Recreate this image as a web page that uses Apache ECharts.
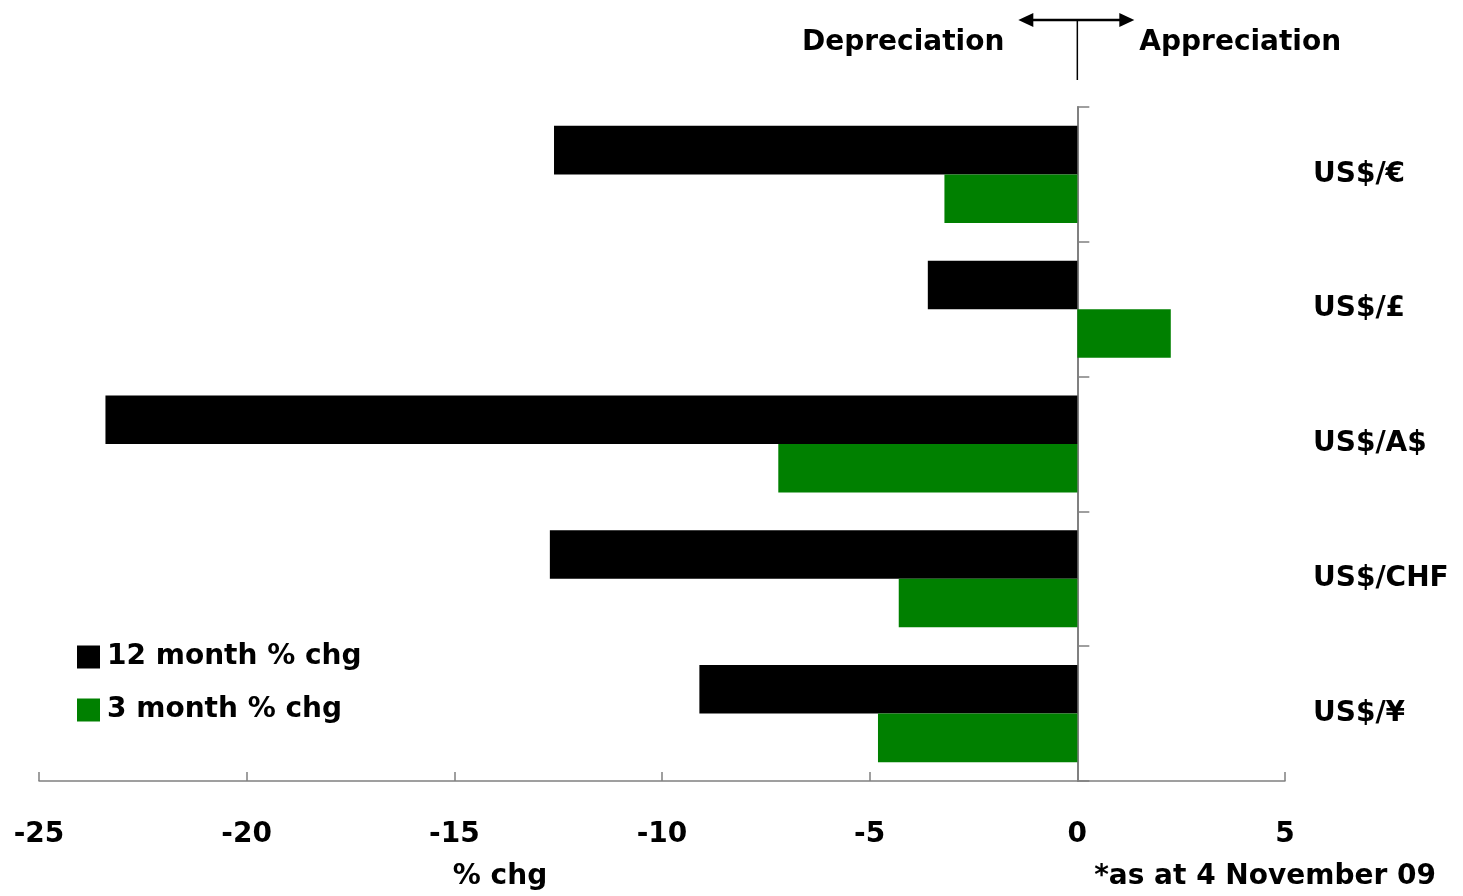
<!DOCTYPE html>
<html>
<head>
<meta charset="utf-8">
<script src="https://cdn.jsdelivr.net/npm/echarts@6/dist/echarts.min.js"></script>
<style>
  html, body { margin: 0; padding: 0; background: #ffffff; }
  #chart { width: 1463px; height: 896px; }
</style>
</head>
<body>
<div id="chart"></div>
<script>
// Currency pairs, top to bottom
const categories = ['US$/€', 'US$/£', 'US$/A$', 'US$/CHF', 'US$/¥'];
// Percentage change in each pair
const chg12m = [-12.6, -3.6, -23.4, -12.7, -9.1];
const chg3m = [-3.2, 2.25, -7.2, -4.3, -4.8];
const seriesNames = ['12 month % chg', '3 month % chg'];
const xTicks = { min: -25, max: 5, step: 5 };

const FONT = '"DejaVu Sans", "Liberation Sans", Arial, sans-serif';
const chart = echarts.init(document.getElementById('chart'));

chart.setOption({
  animation: false,
  backgroundColor: '#ffffff',
  grid: { left: 39, right: 178, top: 107, bottom: 115, containLabel: false },
  legend: {
    orient: 'vertical',
    left: 77,
    top: 643,
    padding: 0,
    itemWidth: 23,
    itemHeight: 23,
    itemGap: 25,
    icon: 'rect',
    data: seriesNames,
    textStyle: { fontFamily: FONT, fontWeight: 'bold', fontSize: 28, color: '#000', lineHeight: 28, padding: [0, 0, 0, 2] }
  },
  xAxis: {
    type: 'value',
    min: xTicks.min,
    max: xTicks.max,
    interval: xTicks.step,
    splitLine: { show: false },
    axisLine: { show: true, onZero: false, lineStyle: { color: '#808080', width: 1.5 } },
    axisTick: { show: true, inside: true, length: 9, lineStyle: { color: '#808080', width: 1.5 } },
    axisLabel: { margin: 40, fontFamily: FONT, fontWeight: 'bold', fontSize: 28, color: '#000' }
  },
  yAxis: [
    {
      type: 'category',
      data: categories,
      inverse: true,
      axisLine: { show: true, onZero: true, lineStyle: { color: '#808080', width: 2 } },
      axisTick: { show: true, inside: true, length: 12, lineStyle: { color: '#808080', width: 1.5 } },
      axisLabel: { show: false }
    },
    {
      type: 'category',
      data: categories,
      inverse: true,
      position: 'right',
      axisLine: { show: false, onZero: false },
      axisTick: { show: false },
      axisLabel: { margin: 28, align: 'left', fontFamily: FONT, fontWeight: 'bold', fontSize: 28, color: '#000', padding: [4, 0, 0, 0] }
    }
  ],
  series: [
    {
      name: seriesNames[0],
      type: 'bar',
      yAxisIndex: 0,
      data: chg12m,
      barGap: '0%',
      barCategoryGap: '28%',
      itemStyle: { color: '#000000' }
    },
    {
      name: seriesNames[1],
      type: 'bar',
      yAxisIndex: 0,
      data: chg3m,
      barGap: '0%',
      barCategoryGap: '28%',
      itemStyle: { color: '#008000' }
    }
  ]
});

// Annotations placed relative to the zero line
const x0 = chart.convertToPixel({ xAxisIndex: 0 }, 0);
const arrowY = 20;
const txt = (x, y, text, align) => ({
  type: 'text', x: x, y: y,
  style: { text: text, fontFamily: FONT, fontWeight: 'bold', fontSize: 28, fill: '#000', align: align, verticalAlign: 'middle' }
});
chart.setOption({
  graphic: [
    { type: 'line', shape: { x1: x0, y1: arrowY, x2: x0, y2: 80 }, style: { stroke: '#000', lineWidth: 1.5 } },
    { type: 'line', shape: { x1: x0 - 48, y1: arrowY, x2: x0 + 46, y2: arrowY }, style: { stroke: '#000', lineWidth: 2.5 } },
    { type: 'polygon', shape: { points: [[x0 - 59, arrowY], [x0 - 44, arrowY - 7], [x0 - 44, arrowY + 7]] }, style: { fill: '#000' } },
    { type: 'polygon', shape: { points: [[x0 + 57, arrowY], [x0 + 42, arrowY - 7], [x0 + 42, arrowY + 7]] }, style: { fill: '#000' } },
    txt(x0 - 73, 43, 'Depreciation', 'right'),
    txt(x0 + 62, 43, 'Appreciation', 'left'),
    txt(500, 877, '% chg', 'center'),
    txt(1436, 877, '*as at 4 November 09', 'right')
  ]
});
</script>
</body>
</html>
